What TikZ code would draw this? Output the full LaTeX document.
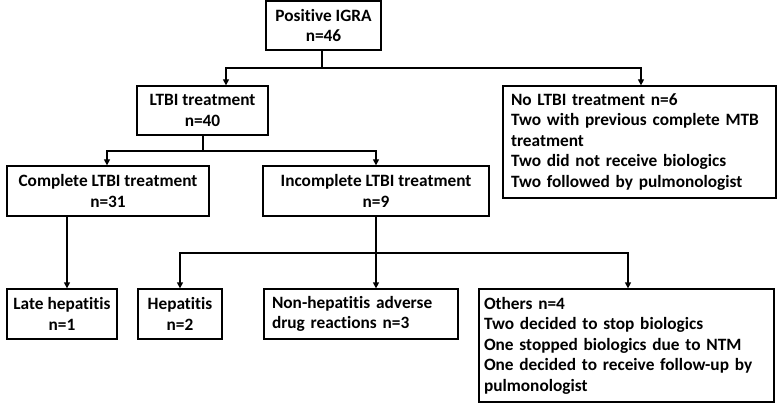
\documentclass[tikz,border=0pt]{standalone}
\usepackage{fontspec}
\setmainfont{Carlito}[Ligatures={NoCommon,NoContextual}]
\usetikzlibrary{arrows.meta}
\begin{document}
\begin{tikzpicture}[x=1pt,y=-1pt,
  box/.style={draw, line width=1.3pt, inner sep=0pt, align=center,
    font=\fontsize{17.3}{20.5}\selectfont\bfseries},
  lbox/.style={draw, line width=1.3pt, inner ysep=0pt, align=left,
    font=\fontsize{17.3}{20.5}\selectfont\bfseries},
  conn/.style={line width=1.3pt},
  arr/.style={conn, -{Triangle[length=6pt,width=6pt]}}]
\useasboundingbox (0,0) rectangle (778,403);
\fill[white] (0,0) rectangle (778,403);
% boxes
\node[box, minimum width=115pt, minimum height=49pt] (igra) at (323.5,25.5) {Positive IGRA\\n=46};
\node[box, minimum width=131pt, minimum height=49pt] (ltbi) at (202.5,110.5) {LTBI treatment\\n=40};
\node[lbox, inner xsep=8pt, text width=257pt, minimum height=112pt] (noltbi) at (639.5,142) {No LTBI treatment n=6\\Two with previous complete MTB\\treatment\\Two did not receive biologics\\Two followed by pulmonologist};
\node[box, minimum width=202pt, minimum height=50pt] (comp) at (108,191) {Complete LTBI treatment\\n=31};
\node[box, minimum width=226pt, minimum height=50pt] (incomp) at (376,191) {Incomplete LTBI treatment\\n=9};
\node[box, minimum width=110pt, minimum height=50pt] (late) at (62,314) {Late hepatitis\\n=1};
\node[box, minimum width=84pt, minimum height=50pt] (hep) at (180,314) {Hepatitis\\n=2};
\node[lbox, inner xsep=8pt, text width=178pt, minimum height=50pt] (nonhep) at (361,314) {Non-hepatitis adverse\\drug reactions n=3};
\node[lbox, inner xsep=5pt, text width=285pt, minimum height=113pt] (others) at (626.5,345.5) {Others n=4\\Two decided to stop biologics\\One stopped biologics due to NTM\\One decided to receive follow-up by\\pulmonologist};
% junction coordinates
\coordinate (j1) at (322,68);
\coordinate (xa) at (226,0);
\coordinate (xb) at (641,0);
\coordinate (j2) at (203,151);
\coordinate (xc) at (107,0);
\coordinate (xd) at (376,0);
\coordinate (j3) at (376,253);
\coordinate (xe) at (67,0);
\coordinate (xf) at (180,0);
\coordinate (xg) at (628,0);
% connectors
\draw[conn] (igra.south -| j1) -- (j1);
\draw[arr] (j1) -| (ltbi.north -| xa);
\draw[arr] (j1) -| (noltbi.north -| xb);
\draw[conn] (ltbi.south -| j2) -- (j2);
\draw[arr] (j2) -| (comp.north -| xc);
\draw[arr] (j2) -| (incomp.north -| xd);
\draw[arr] (comp.south -| xe) -- (late.north -| xe);
\draw[arr] (incomp.south -| j3) -- (nonhep.north -| j3);
\draw[arr] (j3) -| (hep.north -| xf);
\draw[arr] (j3) -| (others.north -| xg);
\end{tikzpicture}
\end{document}
